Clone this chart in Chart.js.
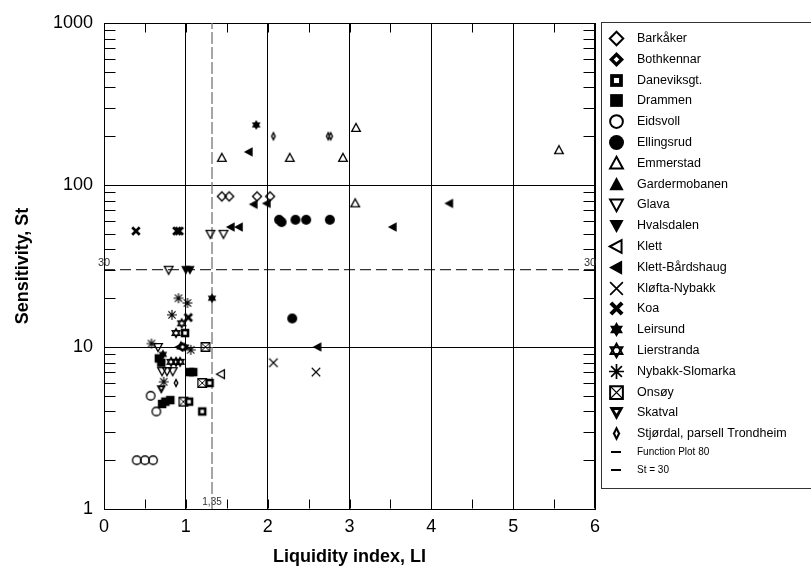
<!DOCTYPE html>
<html>
<head>
<meta charset="utf-8">
<script src="https://cdn.jsdelivr.net/npm/chart.js@4/dist/chart.umd.min.js"></script>
<style>
  html, body { margin: 0; padding: 0; background: #fff; }
</style>
</head>
<body>
<canvas id="grafico" width="811" height="572"></canvas>
<script>
// Liquidity index (LI) / sensitivity (St) pairs per site
const barkaker      = [[1.44, 85], [1.53, 85], [1.87, 85], [2.03, 85]];
const bothkennar    = [[0.96, 10]];
const daneviksgt    = [[1.29, 6], [1.20, 4], [1.04, 4.6], [0.99, 12.2]];
const drammen       = [[0.67, 8.5], [0.70, 8.0], [1.05, 7.0], [1.09, 7.0], [0.75, 4.6], [0.81, 4.7], [0.71, 4.45]];
const eidsvoll      = [[0.57, 5.0], [0.64, 4.0], [0.40, 2], [0.50, 2], [0.60, 2]];
const ellingsrud    = [[2.14, 61], [2.17, 59], [2.34, 61], [2.47, 61], [2.76, 61], [2.30, 15]];
const emmerstad     = [[1.44, 147], [2.27, 147], [2.92, 147], [3.08, 225], [3.07, 77], [5.56, 164]];
const gardermobanen = [[0.94, 10.2]];
const glava         = [[0.79, 30], [1.30, 50], [1.46, 50], [0.66, 10], [0.71, 7.1], [0.77, 7.1], [0.84, 7.1]];
const hvalsdalen    = [[1.00, 30], [1.05, 30]];
const klett         = [[1.43, 6.8]];
const klettBardshaug = [[1.77, 160], [1.83, 76], [1.99, 77], [1.55, 55], [1.65, 55], [3.53, 55], [4.22, 77], [2.61, 10], [0.92, 10]];
const kloftaNybakk  = [[2.07, 8], [2.59, 7]];
const koa           = [[0.39, 52], [0.89, 52], [0.92, 52], [1.03, 15.2]];
const leirsund      = [[1.86, 235], [1.32, 20], [0.72, 9.0], [0.99, 10]];
const lierstranda   = [[0.95, 14], [0.88, 12.2], [0.82, 8.1], [0.88, 8.1], [0.93, 8.1]];
const nybakkSlomarka = [[0.91, 20], [1.02, 18.7], [0.83, 15.8], [0.58, 10.5], [1.06, 9.6], [0.73, 6.1]];
const onsoy         = [[1.24, 10], [1.20, 6], [0.97, 4.6]];
const skatval       = [[0.70, 5.5]];
const stjordal      = [[2.07, 200], [2.74, 200], [2.77, 200], [0.88, 6.0]];

// reference lines
const functionPlotLI = [1.32, 1.32];
const functionPlotSt = [1, 1000];
const st30LI = [0, 6];
const st30St = [30, 30];

const seriesNames = ['Barkåker', 'Bothkennar', 'Daneviksgt.', 'Drammen', 'Eidsvoll', 'Ellingsrud',
  'Emmerstad', 'Gardermobanen', 'Glava', 'Hvalsdalen', 'Klett', 'Klett-Bårdshaug', 'Kløfta-Nybakk',
  'Koa', 'Leirsund', 'Lierstranda', 'Nybakk-Slomarka', 'Onsøy', 'Skatval', 'Stjørdal, parsell Trondheim'];
const seriesData = [barkaker, bothkennar, daneviksgt, drammen, eidsvoll, ellingsrud, emmerstad,
  gardermobanen, glava, hvalsdalen, klett, klettBardshaug, kloftaNybakk, koa, leirsund, lierstranda,
  nybakkSlomarka, onsoy, skatval, stjordal];

const yTickValues = [1, 10, 100, 1000];
const yMinorSteps = [2, 3, 4, 5, 6, 7, 8, 9];
const xMinorStep = 0.5;

const markerKinds = ['diamondOpen', 'diamondDot', 'squareDot', 'square', 'circleOpen', 'circle',
  'triUpOpen', 'triUp', 'triDownOpen', 'triDown', 'triLeftOpen', 'triLeft', 'x', 'xBold',
  'star6', 'david', 'asterisk', 'boxX', 'triDownBold', 'thinDiamond'];

// dibuja cada marcador en un canvas pequeño, que Chart.js usa como pointStyle
function marker(kind, s) {
  var pad = 3;
  var c = document.createElement('canvas');
  c.width = c.height = s + pad * 2;
  var g = c.getContext('2d');
  var m = c.width / 2, r = s / 2, lw = Math.max(1.2, s / 7.5);
  g.strokeStyle = '#000';
  g.fillStyle = '#000';
  g.lineJoin = 'miter';
  function poly(pts, k) {
    k = k || 1;
    g.beginPath();
    pts.forEach(function (p, i) {
      var px = m + p[0] * r * k, py = m + p[1] * r * k;
      if (i) g.lineTo(px, py); else g.moveTo(px, py);
    });
    g.closePath();
  }
  function line(x1, y1, x2, y2) { g.moveTo(m + x1 * r, m + y1 * r); g.lineTo(m + x2 * r, m + y2 * r); }
  var dia = [[0, -1], [1, 0], [0, 1], [-1, 0]];
  var sq = [[-0.85, -0.85], [0.85, -0.85], [0.85, 0.85], [-0.85, 0.85]];
  var up = [[0, -1], [0.95, 0.75], [-0.95, 0.75]];
  var down = [[0, 1], [0.95, -0.75], [-0.95, -0.75]];
  var left = [[-1, 0], [0.75, -0.95], [0.75, 0.95]];
  switch (kind) {
    case 'diamondOpen': poly(dia, 0.9); g.lineWidth = lw; g.stroke(); break;
    case 'diamondDot': poly(dia); g.fill(); g.fillStyle = '#fff'; poly(dia, 0.38); g.fill(); break;
    case 'squareDot': poly(sq); g.fill(); g.fillStyle = '#fff'; poly(sq, 0.4); g.fill(); break;
    case 'square': poly(sq); g.fill(); break;
    case 'circleOpen': g.beginPath(); g.arc(m, m, r * 0.85, 0, Math.PI * 2); g.lineWidth = lw; g.stroke(); break;
    case 'circle': g.beginPath(); g.arc(m, m, r, 0, Math.PI * 2); g.fill(); break;
    case 'triUpOpen': poly(up, 0.9); g.lineWidth = lw; g.stroke(); break;
    case 'triUp': poly(up); g.fill(); break;
    case 'triDownOpen': poly(down, 0.9); g.lineWidth = lw; g.stroke(); break;
    case 'triDown': poly(down); g.fill(); break;
    case 'triLeftOpen': poly(left, 0.9); g.lineWidth = lw; g.stroke(); break;
    case 'triLeft': poly(left); g.fill(); break;
    case 'x': g.beginPath(); line(-0.85, -0.85, 0.85, 0.85); line(-0.85, 0.85, 0.85, -0.85); g.lineWidth = lw * 0.8; g.stroke(); break;
    case 'xBold': g.beginPath(); line(-0.75, -0.75, 0.75, 0.75); line(-0.75, 0.75, 0.75, -0.75); g.lineWidth = lw * 2; g.stroke(); break;
    case 'star6':
      poly([[0, -1], [0.866, 0.5], [-0.866, 0.5]]); g.fill();
      poly([[0, 1], [0.866, -0.5], [-0.866, -0.5]]); g.fill(); break;
    case 'david':
      g.lineWidth = lw;
      poly([[0, -1], [0.866, 0.5], [-0.866, 0.5]], 0.9); g.stroke();
      poly([[0, 1], [0.866, -0.5], [-0.866, -0.5]], 0.9); g.stroke(); break;
    case 'asterisk':
      g.beginPath(); line(0, -1, 0, 1); line(-1, 0, 1, 0); line(-0.72, -0.72, 0.72, 0.72); line(-0.72, 0.72, 0.72, -0.72);
      g.lineWidth = lw * 0.85; g.stroke(); break;
    case 'boxX':
      g.lineWidth = lw; poly(sq); g.stroke();
      g.beginPath(); line(-0.85, -0.85, 0.85, 0.85); line(-0.85, 0.85, 0.85, -0.85); g.lineWidth = lw * 0.7; g.stroke(); break;
    case 'triDownBold':
      poly(down); g.fill(); g.fillStyle = '#fff'; g.beginPath();
      g.moveTo(m, m + 0.15 * r); g.lineTo(m + 0.3 * r, m - 0.35 * r); g.lineTo(m - 0.3 * r, m - 0.35 * r); g.closePath(); g.fill(); break;
    case 'thinDiamond':
      poly([[0, -1], [0.5, 0], [0, 1], [-0.5, 0]]); g.fill();
      g.fillStyle = '#fff'; poly([[0, -0.4], [0.17, 0], [0, 0.4], [-0.17, 0]]); g.fill(); break;
    case 'dash':
      g.fillRect(m - r, Math.round(m) - 1, 2 * r, 2); break;
  }
  return c;
}

var datasets = seriesNames.map(function (name, i) {
  return {
    label: name,
    data: seriesData[i].map(function (p) { return { x: p[0], y: p[1] }; }),
    pointStyle: marker(markerKinds[i], 10),
    legendMarker: marker(markerKinds[i], 15),
    pointRadius: 5,
    showLine: false
  };
});
datasets.push({
  label: 'Function Plot 80',
  data: functionPlotLI.map(function (v, i) { return { x: v, y: functionPlotSt[i] }; }),
  showLine: true, pointRadius: 0, borderColor: '#777', borderWidth: 1.3, borderDash: [12, 3],
  legendMarker: marker('dash', 10), small: true
});
datasets.push({
  label: 'St = 30',
  data: st30LI.map(function (v, i) { return { x: v, y: st30St[i] }; }),
  showLine: true, pointRadius: 0, borderColor: '#000', borderWidth: 1, borderDash: [11, 5],
  legendMarker: marker('dash', 10), small: true
});

var FONT = "'Liberation Sans', Arial, sans-serif";

// marco, marcas menores hacia adentro y rótulos de las líneas de referencia
var frame = {
  id: 'frame',
  beforeDatasetsDraw: function (chart) {
    var ctx = chart.ctx, a = chart.chartArea, x = chart.scales.x, y = chart.scales.y;
    ctx.save();
    ctx.strokeStyle = '#000';
    ctx.lineWidth = 1;
    ctx.beginPath();
    var L = Math.round(a.left) + 0.5, R = Math.round(a.right) - 0.5;
    var T = Math.round(a.top) + 0.5, B = Math.round(a.bottom) - 0.5;
    ctx.moveTo(L, T); ctx.lineTo(R, T); ctx.lineTo(R, B);
    for (var d = 1; d < 1000; d *= 10) {
      yMinorSteps.forEach(function (k) {
        var py = Math.round(y.getPixelForValue(d * k)) + 0.5;
        ctx.moveTo(L, py); ctx.lineTo(L + 11, py);
        ctx.moveTo(R, py); ctx.lineTo(R - 11, py);
      });
    }
    for (var v = xMinorStep; v < 6; v += xMinorStep) {
      var px = Math.round(x.getPixelForValue(v)) + 0.5;
      ctx.moveTo(px, B); ctx.lineTo(px, B - 9);
      ctx.moveTo(px, T); ctx.lineTo(px, T + 9);
    }
    ctx.stroke();
    ctx.fillStyle = '#333';
    ctx.font = '11px ' + FONT;
    ctx.textBaseline = 'middle';
    ctx.textAlign = 'center';
    var p30 = y.getPixelForValue(30) - 7;
    ctx.fillText('30', x.getPixelForValue(0), p30);
    ctx.fillText('30', x.getPixelForValue(6) - 5, p30);
    ctx.font = '10px ' + FONT;
    ctx.fillText('1,35', x.getPixelForValue(functionPlotLI[0]), y.getPixelForValue(1) - 7);
    ctx.restore();
  }
};

var legendBox = {
  id: 'legendBox',
  afterDraw: function (chart) {
    var ctx = chart.ctx;
    ctx.save();
    ctx.strokeStyle = '#333';
    ctx.lineWidth = 1;
    ctx.strokeRect(601.5, 22.5, 230, 466);
    ctx.fillStyle = '#000';
    ctx.textBaseline = 'middle';
    ctx.textAlign = 'left';
    chart.data.datasets.forEach(function (ds, i) {
      var cy = i < 20 ? 38.5 + i * 20.8 : (i === 20 ? 452 : 470);
      var mk = ds.legendMarker;
      ctx.drawImage(mk, Math.round(616 - mk.width / 2), Math.round(cy - mk.height / 2));
      ctx.font = (ds.small ? '10px ' : '12.5px ') + FONT;
      ctx.fillText(ds.label, 637, cy);
    });
    ctx.restore();
  }
};

var ctx = document.getElementById('grafico').getContext('2d');
var chart = new Chart(ctx, {
  type: 'scatter',
  data: { datasets: datasets },
  options: {
    responsive: false,
    animation: false,
    devicePixelRatio: 1,
    layout: { padding: { top: 23, right: 216, left: 0, bottom: 0 } },
    plugins: { legend: { display: false }, tooltip: { enabled: false } },
    scales: {
      x: {
        type: 'linear', min: 0, max: 6,
        afterFit: function (s) { s.height = 63; },
        ticks: { stepSize: 1, color: '#000', padding: 7, font: { family: FONT, size: 18 } },
        grid: { color: '#000', lineWidth: 1, drawTicks: false },
        border: { color: '#000' },
        title: { display: true, text: 'Liquidity index, LI', color: '#000', padding: 4,
                 font: { family: FONT, size: 18, weight: 'bold' } }
      },
      y: {
        type: 'logarithmic', min: 1, max: 1000,
        afterFit: function (s) { s.width = 104; },
        afterBuildTicks: function (s) { s.ticks = yTickValues.map(function (v) { return { value: v }; }); },
        ticks: { autoSkip: false, color: '#000', padding: 11, font: { family: FONT, size: 18 },
                 callback: function (v) { return String(v); } },
        grid: { color: '#000', lineWidth: 1, drawTicks: false },
        border: { color: '#000' },
        title: { display: true, text: 'Sensitivity, St', color: '#000', padding: 12,
                 font: { family: FONT, size: 18, weight: 'bold' } }
      }
    }
  },
  plugins: [frame, legendBox]
});
</script>
</body>
</html>
